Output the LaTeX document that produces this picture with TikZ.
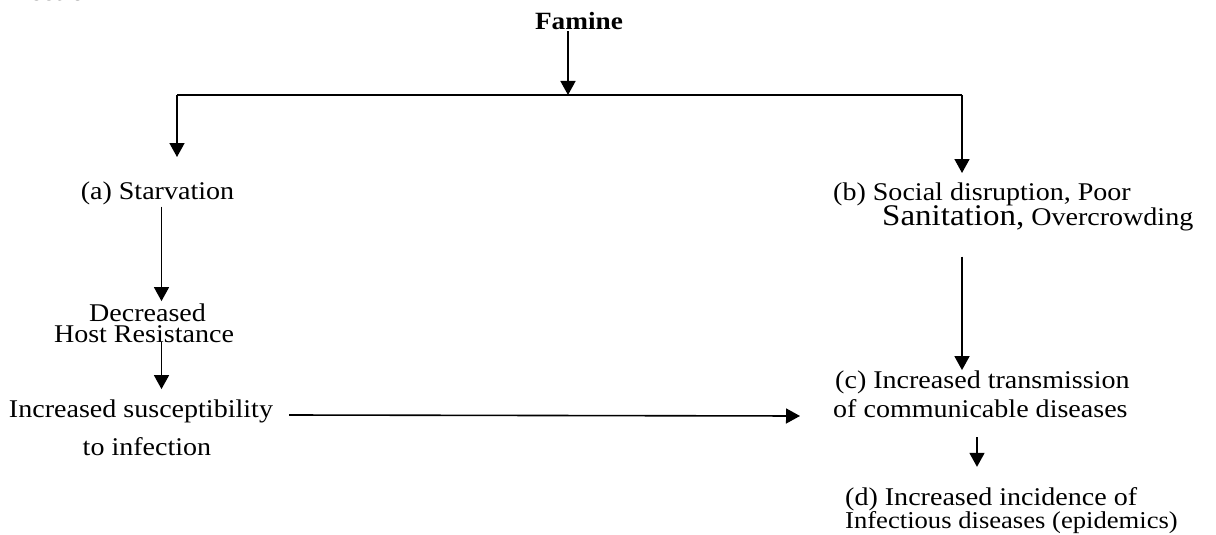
\documentclass[tikz,border=0pt]{standalone}
\usepackage{fontspec}
\setmainfont{Liberation Serif}[FakeStretch=1.1]
\usetikzlibrary{arrows.meta,calc}
\tikzset{
  lbl/.style={inner sep=0pt, font=\fontsize{25.5}{25}\selectfont},
  arr/.style={line width=1.6pt, -{Triangle[width=15pt,length=14pt]}},
  ln/.style={line width=1.6pt},
}
\begin{document}
\begin{tikzpicture}[x=1pt,y=-1pt]
\useasboundingbox (0,0) rectangle (1216,535);
\fill[white] (0,0) rectangle (1216,535);
% cut-off heading at the top edge
\begin{scope}
\clip (0,0) rectangle (1216,535);
\node[lbl, anchor=base east, font=\bfseries\fontsize{25}{25}\selectfont] (head) at (100,0.3) {Infection};
\end{scope}
% nodes
\node[lbl, anchor=base, font=\bfseries\fontsize{24.8}{25}\selectfont] (famine) at (579,30) {Famine};
\node[lbl, anchor=base] (starv) at (157.5,199) {(a) Starvation};
\node[lbl, anchor=base] (dec1) at (147.5,321) {Decreased};
\node[lbl, anchor=base] (dec2) at (144,342) {Host Resistance};
\node[lbl, anchor=base] (susc1) at (141,417) {Increased susceptibility};
\node[lbl, anchor=base] (susc2) at (147,455) {to infection};
\node[lbl, anchor=base west] (b1) at (833,200) {(b) Social disruption, Poor};
\node[lbl, anchor=base west] (b2) at (882,225) {{\fontsize{30}{30}\selectfont Sanitation,} Overcrowding};
\node[lbl, anchor=base west] (c1) at (835,388) {(c) Increased transmission};
\node[lbl, anchor=base west] (c2) at (833,417) {of communicable diseases};
\node[lbl, anchor=base west] (d1) at (845,505) {(d) Increased incidence of};
\node[lbl, anchor=base west, font=\fontsize{24.2}{24}\selectfont] (d2) at (845,528) {Infectious diseases (epidemics)};
% junction coordinates and columns
\coordinate (j) at (568,95);
\coordinate (jl) at (177,95);
\coordinate (jr) at (962,95);
\coordinate (xa) at (161.5,0);
\coordinate (xd) at (977,0);
% connectors
\draw[arr] ($(famine.south -| j)+(0,1)$) -- (j);
\draw[ln] (jl) -- (jr);
\draw[arr] (jl) -- ++(0,62);
\draw[arr] (jr) -- ++(0,78);
\draw[arr] ($(starv.south -| xa)+(0,2)$) -- ($(dec1.north -| xa)+(0,-2)$);
\draw[arr] (dec2.south -| xa) -- ($(susc1.north -| xa)+(0,-10)$);
\draw[arr] ($(susc1.base east)+(16,-2)$) -- ($(c2.base west)+(-33,-1)$);
\draw[arr] ($(b2.south -| jr)+(0,26)$) -- (c1.north -| jr);
\draw[arr] ($(c2.south -| xd)+(0,20)$) -- ($(d1.north -| xd)+(0,-20)$);
\end{tikzpicture}
\end{document}
